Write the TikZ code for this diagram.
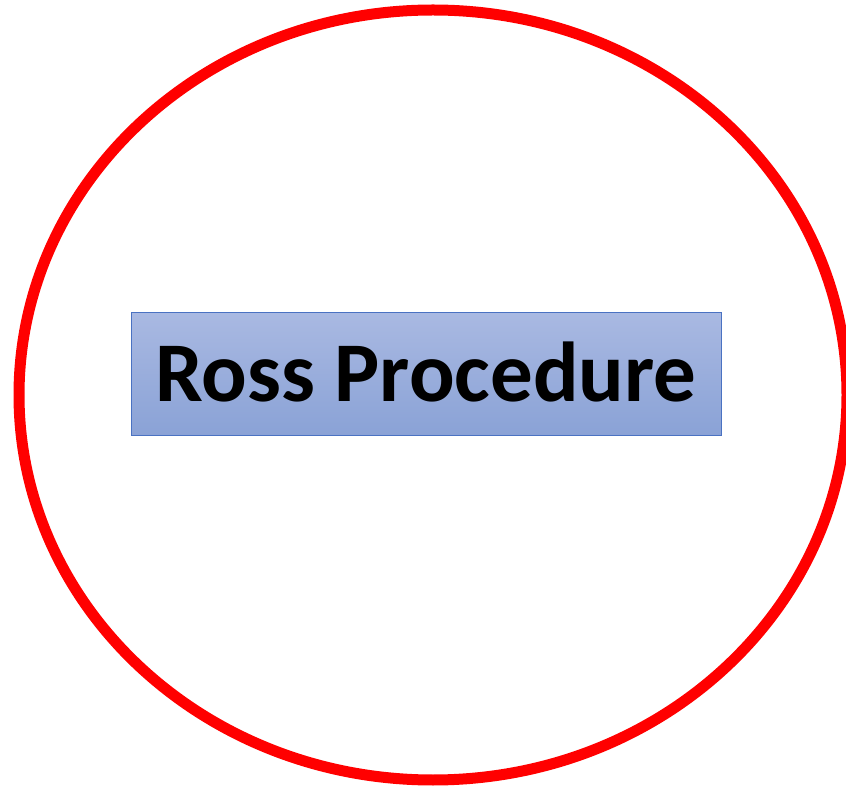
\documentclass[tikz,border=0pt]{standalone}
\usepackage{fontspec}
\setmainfont{Carlito}
\definecolor{ringred}{HTML}{FF0000}
\definecolor{boxtop}{HTML}{A9B9E2}
\definecolor{boxbot}{HTML}{8AA2D6}
\definecolor{boxedge}{HTML}{4A72C2}
\tikzset{
  ring/.style={draw=ringred, line width=11pt},
  titlebox/.style={draw=boxedge, line width=0.8pt, top color=boxtop, bottom color=boxbot, minimum width=590pt, minimum height=123pt, inner sep=0pt},
  titletext/.style={font=\fontsize{85}{100}\selectfont\bfseries, text=black, inner sep=0pt}
}
\begin{document}
\begin{tikzpicture}[x=1pt,y=1pt]
\useasboundingbox (0,0) rectangle (846,785);
\clip (0,0) rectangle (846,785);
\fill[white] (0,0) rectangle (846,785);
\draw[ring] (433,390) ellipse [x radius=414, y radius=385];
\node[titlebox] (box) at (426,411) {};
\node[titletext, anchor=base] (title) at (426,383) {Ross Procedure};
\end{tikzpicture}
\end{document}
